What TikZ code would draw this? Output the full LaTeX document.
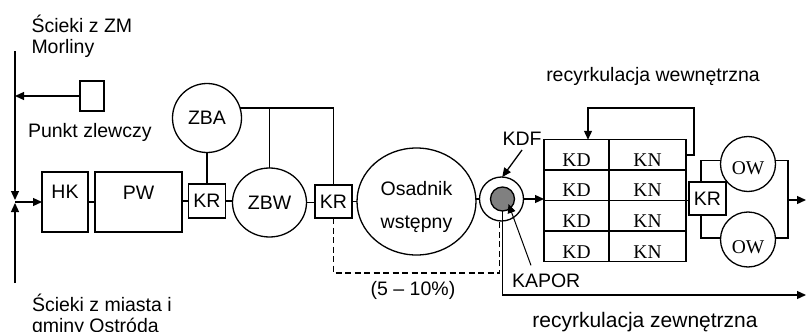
\documentclass[tikz,border=0pt]{standalone}
\usepackage{fontspec}
\setmainfont{Liberation Sans}
\newfontfamily\serifA{Liberation Serif}
\usetikzlibrary{arrows.meta,shapes.geometric}
\begin{document}
\begin{tikzpicture}[x=1pt,y=-1pt,line width=1.3pt,
  every node/.style={inner sep=0pt,outer sep=0pt},
  txt/.style={font=\fontsize{19.5}{22.5}\selectfont},
  bigtxt/.style={font=\fontsize{21}{24}\selectfont},
  sertxt/.style={font=\serifA\fontsize{19.5}{22}\selectfont},
  krbox/.style={draw,rectangle,minimum width=37,minimum height=33,txt},
  cell/.style={draw,rectangle,minimum height=30.5,sertxt,text height=23pt,text depth=0pt},
  arr/.style={-{Triangle[length=9pt,width=8pt]}},
  dsh/.style={dash pattern=on 6pt off 3.5pt}]
\useasboundingbox (0,0) rectangle (807,332);

% left inflow
\coordinate (tin) at (15,51);
\coordinate (bin) at (15,283);
\coordinate (j1) at (15,200);
\coordinate (j2) at (15,203);
\node[txt,anchor=base west] (t1) at (31.5,32) {Ścieki z ZM};
\node[txt,anchor=base west] (t2) at (31.5,53.5) {Morliny};
\node[txt,anchor=base west] (t3) at (32,311) {Ścieki z miasta i};
\node[txt,anchor=base west] (t4) at (32,332.5) {gminy Ostróda};
\node[draw,minimum width=24,minimum height=30] (pz) at (92,96) {};
\node[txt,anchor=base west] (pzl) at (28,137) {Punkt zlewczy};
\draw[arr] (tin) -- (j1);
\draw[arr] (bin) -- (j2);
\draw[arr] (pz.west) -- (pz.west -| tin);

% main line
\node[draw,minimum width=46,minimum height=60,txt,text height=0pt,text depth=8pt] (hk) at (65,202) {HK};
\node[draw,minimum width=87,minimum height=60,txt,text height=0pt,text depth=6pt] (pw) at (138.5,202) {PW};
\node[krbox,minimum height=34] (kr1) at (207,201) {KR};
\node[draw,circle,minimum size=69,txt] (zba) at (207,118) {ZBA};
\node[draw,ellipse,minimum width=74,minimum height=69,txt] (zbw) at (269.5,202.5) {ZBW};
\node[krbox] (kr2) at (333.5,201.5) {KR};
\node[draw,ellipse,minimum width=119,minimum height=107] (os) at (416.5,201.5) {};
\node[txt,anchor=base] (os1) at (416.5,195) {Osadnik};
\node[txt,anchor=base] (os2) at (416.5,228) {wstępny};
\node[draw,circle,minimum size=44] (kdf) at (501.5,199) {};
\node[draw,circle,minimum size=24,fill=gray] (kapor) at (502.5,199) {};

\draw[arr] (hk.west -| tin) -- (hk.west);
\draw (hk.east) -- (pw.west |- hk.east);
\draw (pw.east |- kr1.west) -- (kr1.west);
\draw (kr1.east) -- (zbw.west |- kr1.east);
\draw (zbw.east) -- (kr2.west |- zbw.east);
\draw (kr2.east) -- (os.west |- kr2.east);
\draw (kdf.west) -- (kdf.west -| os.east);
\draw (zba.south) -- (kr1.north);
\draw (zba.17) -- (kr2.north |- zba.17) -- (kr2.north);
\draw (zbw.north) -- (zbw.north |- zba.17);

% dashed return
\coordinate (dashc) at (499.5,273);
\draw[dsh] (kr2.south) |- (dashc) -- ([xshift=-2pt]kdf.south);
\node[txt,anchor=base] (pct) at (413,295) {(5 \textendash{} 10\%)};

% KDF / KAPOR labels
\node[txt,anchor=base] (kdfl) at (522,145) {KDF};
\draw[arr] ([yshift=-5pt]kdfl.south) -- (kdf.88);
\node[txt,anchor=base west] (kapl) at (512,287) {KAPOR};
\draw[arr,line width=1pt] ([shift={(19pt,8pt)}]kapl.north west) -- ([shift={(6pt,-5pt)}]kapor.center);

% table
\foreach \r/\y in {1/155,2/185,3/215.5,4/246.5}{
  \node[cell,minimum width=65] (kd\r) at (576.5,\y) {KD};
  \node[cell,minimum width=77] (kn\r) at (647.5,\y) {KN};
}
\draw[arr] (kdf.east) -- (kdf.east -| kd2.west);
\node[krbox] (kr3) at (707.5,198.5) {KR};
\draw (kn2.south east) -- (kr3.west |- kn2.south east);

% internal recirculation
\draw[arr] (kn1.east) -- ++(8,0) -- ++(0,-47) -| ([xshift=11.5pt]kd1.north);
\node[txt,anchor=base] (rw) at (653,81) {recyrkulacja wewnętrzna};

% secondary clarifiers
\node[draw,circle,minimum size=55,sertxt,text height=20pt,text depth=0pt] (ow1) at (748,164) {OW};
\node[draw,circle,minimum size=55,sertxt,text height=27pt,text depth=0pt] (ow2) at (748,239.5) {OW};
\draw ([xshift=12pt]kr3.north west) |- (ow1.173);
\draw ([xshift=12pt]kr3.south west) |- (ow2.177);
\coordinate (bus) at (788,200);
\coordinate (out) at (806,200);
\draw (ow1.7) -| (bus) |- (ow2.3);
\draw[arr] (bus) -- (out);

% external recirculation
\coordinate (extend) at (806,295);
\draw[arr] (kapor.south) |- (extend);
\node[bigtxt,anchor=base] (rz) at (645,327) {recyrkulacja zewnętrzna};
\end{tikzpicture}
\end{document}
